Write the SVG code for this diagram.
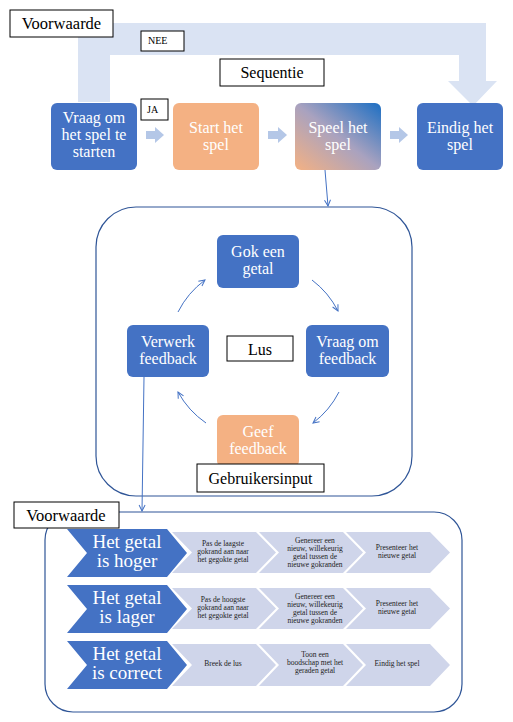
<svg xmlns="http://www.w3.org/2000/svg" width="513" height="722" viewBox="0 0 513 722">
<defs>
<marker id="ah" markerWidth="8" markerHeight="8" refX="7" refY="4" orient="auto" markerUnits="userSpaceOnUse">
<path d="M1,1 L7,4 L1,7" fill="none" stroke="#4472c4" stroke-width="1"/>
</marker>
<linearGradient id="g1" x1="0" y1="1" x2="1" y2="0">
<stop offset="0" stop-color="#f4b183"/>
<stop offset="0.5" stop-color="#a9a2bf"/>
<stop offset="1" stop-color="#1d6fc3"/>
</linearGradient>
</defs>

<path id="band" d="M78,102 L78,23 L486,23 L486,81 L497,81 L473,106 L448,81 L459,81 L459,55 L110,55 L110,102 Z" fill="#dae3f3"/>

<g id="containers" fill="none" stroke="#2f5597" stroke-width="1.2">
<rect id="loopbox" x="96" y="207" width="316" height="289" rx="40"/>
<rect id="condbox" x="45" y="512" width="417" height="200" rx="28"/>
</g>

<g id="seqarrows" fill="#b4c7e7">
<path d="M146,131 H155 V127 L164,135 L155,143 V139 H146 Z"/>
<path d="M268,131 H278 V127 L287,135 L278,143 V139 H268 Z"/>
<path d="M390,131 H399 V127 L408,135 L399,143 V139 H390 Z"/>
</g>

<g id="topnodes" font-size="16" text-anchor="middle">
<g id="n1"><rect fill="#4472c4" x="51" y="103" width="86" height="67" rx="6"/>
<g fill="#fff"><text font-family="Liberation Serif" x="94" y="123">Vraag om</text><text font-family="Liberation Serif" x="94" y="140">het spel te</text><text font-family="Liberation Serif" x="94" y="157">starten</text></g></g>
<g id="n2"><rect fill="#f4b183" x="173" y="103" width="86" height="67" rx="6"/>
<g fill="#fff"><text font-family="Liberation Serif" x="216" y="133">Start het</text><text font-family="Liberation Serif" x="216" y="150">spel</text></g></g>
<g id="n3"><rect fill="url(#g1)" x="295" y="103" width="86" height="67" rx="6"/>
<g fill="#fff"><text font-family="Liberation Serif" x="338" y="133">Speel het</text><text font-family="Liberation Serif" x="338" y="150">spel</text></g></g>
<g id="n4"><rect fill="#4472c4" x="417" y="103" width="86" height="67" rx="6"/>
<g fill="#fff"><text font-family="Liberation Serif" x="460" y="133">Eindig het</text><text font-family="Liberation Serif" x="460" y="150">spel</text></g></g>
</g>

<g id="labels_top" stroke-width="1">
<g id="l_voorw1"><rect fill="#fff" stroke="#000" x="10" y="10" width="103" height="27"/><text font-family="Liberation Serif" x="61.5" y="29" font-size="16.5" text-anchor="middle" fill="#000">Voorwaarde</text></g>
<g id="l_nee"><rect fill="#fff" stroke="#000" x="141" y="31" width="43" height="20"/><text font-family="Liberation Serif" x="148" y="44" font-size="10" fill="#000">NEE</text></g>
<g id="l_seq"><rect fill="#fff" stroke="#000" x="220" y="59" width="104" height="27"/><text font-family="Liberation Serif" x="272" y="78" font-size="16" text-anchor="middle" fill="#000">Sequentie</text></g>
<g id="l_ja"><rect fill="#fff" stroke="#000" x="141" y="99" width="27" height="21"/><text font-family="Liberation Serif" x="147" y="113" font-size="10" fill="#000">JA</text></g>
</g>

<g id="loopnodes" font-size="16" text-anchor="middle">
<g id="gok"><rect fill="#4472c4" x="217" y="235" width="82" height="53" rx="6"/>
<g fill="#fff"><text font-family="Liberation Serif" x="258" y="257">Gok een</text><text font-family="Liberation Serif" x="258" y="274">getal</text></g></g>
<g id="vraagfb"><rect fill="#4472c4" x="306" y="325" width="83" height="52" rx="6"/>
<g fill="#fff"><text font-family="Liberation Serif" x="347.5" y="347">Vraag om</text><text font-family="Liberation Serif" x="347.5" y="364">feedback</text></g></g>
<g id="verwerk"><rect fill="#4472c4" x="127" y="325" width="82" height="52" rx="6"/>
<g fill="#fff"><text font-family="Liberation Serif" x="168" y="347">Verwerk</text><text font-family="Liberation Serif" x="168" y="364">feedback</text></g></g>
<g id="geef"><rect fill="#f4b183" x="217" y="415" width="82" height="52" rx="6"/>
<g fill="#fff"><text font-family="Liberation Serif" x="258" y="437">Geef</text><text font-family="Liberation Serif" x="258" y="454">feedback</text></g></g>
<g id="l_lus"><rect fill="#fff" stroke="#000" x="227" y="336" width="66" height="25"/><text font-family="Liberation Serif" x="260" y="355" fill="#000">Lus</text></g>
<g id="l_gebr"><rect fill="#fff" stroke="#000" x="197" y="464" width="127" height="28"/><text font-family="Liberation Serif" x="260.5" y="484" fill="#000">Gebruikersinput</text></g>
</g>

<g id="connectors" fill="none" stroke="#4472c4" stroke-width="1">
<path d="M325,170 L328,206" marker-end="url(#ah)"/>
<path d="M178,312 A90,90 0 0 1 205,280" marker-end="url(#ah)"/>
<path d="M312,280 A90,90 0 0 1 338,311" marker-end="url(#ah)"/>
<path d="M339,392 A90,90 0 0 1 313,423" marker-end="url(#ah)"/>
<path d="M206,423 A90,90 0 0 1 178,392" marker-end="url(#ah)"/>
<path d="M144,377 L142,511" marker-end="url(#ah)"/>
</g>

<g id="conditions" text-anchor="middle">
<g id="row1">
<path fill="#4472c4" d="M67,529 H167 L187,553 L167,577 H67 L87,553 Z"/>
<g fill="#fff" font-size="19"><text font-family="Liberation Serif" x="127" y="548">Het getal</text><text font-family="Liberation Serif" x="127" y="567">is hoger</text></g>
<g fill="#cfd5ea">
<path d="M172,532 H256 L276,552.5 L256,573 H172 L192,552.5 Z"/>
<path d="M259,532 H343 L363,552.5 L343,573 H259 L279,552.5 Z"/>
<path d="M346,532 H430 L450,552.5 L430,573 H346 L366,552.5 Z"/>
</g>
<g fill="#222" font-size="7.5">
<text font-family="Liberation Serif" x="223" y="546">Pas de laagste</text><text font-family="Liberation Serif" x="223" y="554">gokrand aan naar</text><text font-family="Liberation Serif" x="223" y="562">het gegokte getal</text>
<text font-family="Liberation Serif" x="315" y="543">Genereer een</text><text font-family="Liberation Serif" x="315" y="551">nieuw, willekeurig</text><text font-family="Liberation Serif" x="315" y="559">getal tussen de</text><text font-family="Liberation Serif" x="315" y="567">nieuwe gokranden</text>
<text font-family="Liberation Serif" x="397" y="550">Presenteer het</text><text font-family="Liberation Serif" x="397" y="558">nieuwe getal</text>
</g>
</g>
<g id="row2">
<path fill="#4472c4" d="M67,585 H167 L187,609 L167,633 H67 L87,609 Z"/>
<g fill="#fff" font-size="19"><text font-family="Liberation Serif" x="127" y="604">Het getal</text><text font-family="Liberation Serif" x="127" y="623">is lager</text></g>
<g fill="#cfd5ea">
<path d="M172,588 H256 L276,608.5 L256,629 H172 L192,608.5 Z"/>
<path d="M259,588 H343 L363,608.5 L343,629 H259 L279,608.5 Z"/>
<path d="M346,588 H430 L450,608.5 L430,629 H346 L366,608.5 Z"/>
</g>
<g fill="#222" font-size="7.5">
<text font-family="Liberation Serif" x="223" y="602">Pas de hoogste</text><text font-family="Liberation Serif" x="223" y="610">gokrand aan naar</text><text font-family="Liberation Serif" x="223" y="618">het gegokte getal</text>
<text font-family="Liberation Serif" x="315" y="599">Genereer een</text><text font-family="Liberation Serif" x="315" y="607">nieuw, willekeurig</text><text font-family="Liberation Serif" x="315" y="615">getal tussen de</text><text font-family="Liberation Serif" x="315" y="623">nieuwe gokranden</text>
<text font-family="Liberation Serif" x="397" y="606">Presenteer het</text><text font-family="Liberation Serif" x="397" y="614">nieuwe getal</text>
</g>
</g>
<g id="row3">
<path fill="#4472c4" d="M67,641 H167 L187,665 L167,689 H67 L87,665 Z"/>
<g fill="#fff" font-size="19"><text font-family="Liberation Serif" x="127" y="660">Het getal</text><text font-family="Liberation Serif" x="127" y="679">is correct</text></g>
<g fill="#cfd5ea">
<path d="M172,644 H256 L276,665 L256,686 H172 L192,665 Z"/>
<path d="M259,644 H343 L363,665 L343,686 H259 L279,665 Z"/>
<path d="M346,644 H430 L450,665 L430,686 H346 L366,665 Z"/>
</g>
<g fill="#222" font-size="7.5">
<text font-family="Liberation Serif" x="223" y="666">Breek de lus</text>
<text font-family="Liberation Serif" x="315" y="657">Toon een</text><text font-family="Liberation Serif" x="315" y="665">boodschap met het</text><text font-family="Liberation Serif" x="315" y="673">geraden getal</text>
<text font-family="Liberation Serif" x="397" y="666">Eindig het spel</text>
</g>
</g>
</g>

<g id="l_voorw2"><rect fill="#fff" stroke="#000" stroke-width="1" x="14" y="502" width="105" height="26"/><text font-family="Liberation Serif" x="66" y="521" font-size="16.5" text-anchor="middle" fill="#000">Voorwaarde</text></g>
</svg>
